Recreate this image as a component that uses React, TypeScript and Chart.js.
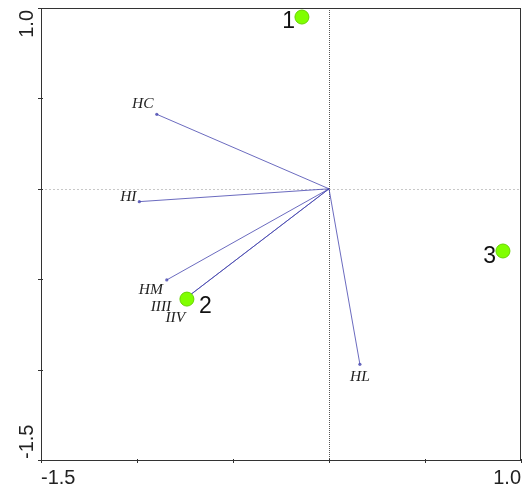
import React, { useEffect, useRef } from "react";
import { Chart, registerables } from "chart.js";

Chart.register(...registerables);

// Sites (samples)
const siteLabels = ["1", "2", "3"];
const siteX = [-0.141, -0.74, 0.906];
const siteY = [0.95, -0.61, -0.344];

// Variable arrows (biplot scores)
const varLabels = ["HC", "HI", "HM", "IIII", "IIV", "HL"];
const varX = [-0.897, -0.988, -0.845, -0.745, -0.738, 0.161];
const varY = [0.412, -0.071, -0.504, -0.605, -0.599, -0.971];

// Axes
const xMin = -1.5;
const xMax = 1.0;
const yMin = -1.5;
const yMax = 1.0;
const xTickValues = [-1.5, -1.0, -0.5, 0, 0.5, 1.0];
const yTickValues = [-1.5, -1.0, -0.5, 0, 0.5, 1.0];
const xTickLabelValues = [-1.5, 1.0];
const xTickLabels = ["-1.5", "1.0"];
const yTickLabelValues = [1.0, -1.5];
const yTickLabels = ["1.0", "-1.5"];

// styling-only offsets (pixels) for text labels
const varLabelOffsets: [number, number][] = [
  [-14, -10],
  [-11, -5],
  [-16, 10],
  [-25, 9],
  [-12, 21],
  [0, 13],
];
const siteLabelStyle: { dx: number; dy: number; align: CanvasTextAlign }[] = [
  { dx: -7, dy: 11, align: "right" },
  { dx: 12, dy: 14, align: "left" },
  { dx: -7, dy: 12, align: "right" },
];

const ARROW_COLOR = "rgba(70,70,175,0.8)";

export default function App() {
  const ref = useRef<HTMLCanvasElement>(null);

  useEffect(() => {
    document.body.style.margin = "0";
    const canvas = ref.current;
    if (!canvas) return;

    const arrowDatasets = varLabels.map((lab, i) => ({
      label: lab,
      data: [
        { x: 0, y: 0 },
        { x: varX[i], y: varY[i] },
      ],
      showLine: true,
      borderColor: ARROW_COLOR,
      borderWidth: 1,
      backgroundColor: ARROW_COLOR,
      pointRadius: [0, 1.6],
      pointBorderWidth: 0,
      pointHoverRadius: 0,
      order: 2,
    }));

    const framePlugin = {
      id: "framePlugin",
      beforeDatasetsDraw(chart: any) {
        const { ctx, chartArea: a, scales } = chart;
        const xs = scales.x;
        const ys = scales.y;
        ctx.save();
        const x0 = Math.round(xs.getPixelForValue(0)) + 0.5;
        const y0 = Math.round(ys.getPixelForValue(0)) + 0.5;
        ctx.lineWidth = 1;
        ctx.strokeStyle = "#c8c8c8";
        ctx.setLineDash([2, 2]);
        ctx.beginPath();
        ctx.moveTo(a.left, y0);
        ctx.lineTo(a.right, y0);
        ctx.stroke();
        ctx.strokeStyle = "#555555";
        ctx.setLineDash([1, 1]);
        ctx.beginPath();
        ctx.moveTo(x0, a.top);
        ctx.lineTo(x0, a.bottom);
        ctx.stroke();
        ctx.setLineDash([]);
        ctx.restore();
      },
      afterDatasetsDraw(chart: any) {
        const { ctx, chartArea: a, scales } = chart;
        const xs = scales.x;
        const ys = scales.y;
        ctx.save();
        ctx.strokeStyle = "#333333";
        ctx.lineWidth = 1;
        ctx.strokeRect(a.left + 0.5, a.top + 0.5, a.right - a.left - 1, a.bottom - a.top);
        ctx.beginPath();
        xTickValues.forEach((v) => {
          const px = Math.round(xs.getPixelForValue(v)) + 0.5;
          ctx.moveTo(px, a.bottom - 1);
          ctx.lineTo(px, a.bottom + 3);
        });
        yTickValues.forEach((v) => {
          const py = Math.round(ys.getPixelForValue(v)) + 0.5;
          ctx.moveTo(a.left - 3, py);
          ctx.lineTo(a.left + 2, py);
        });
        ctx.stroke();

        ctx.fillStyle = "#222222";
        ctx.font = '20px "Liberation Sans", Arial, sans-serif';
        ctx.textBaseline = "alphabetic";
        xTickLabelValues.forEach((v, i) => {
          const px = xs.getPixelForValue(v);
          ctx.textAlign = v === xMin ? "left" : "right";
          ctx.fillText(xTickLabels[i], px, a.bottom + 24);
        });
        yTickLabelValues.forEach((v, i) => {
          const py = ys.getPixelForValue(v);
          ctx.save();
          ctx.translate(33, v === yMax ? py + 2 : py - 1);
          ctx.rotate(-Math.PI / 2);
          ctx.textAlign = v === yMax ? "right" : "left";
          ctx.fillText(yTickLabels[i], 0, 0);
          ctx.restore();
        });

        ctx.font = 'italic 15.5px "Liberation Serif", "Times New Roman", serif';
        ctx.fillStyle = "#222222";
        ctx.textAlign = "center";
        ctx.textBaseline = "middle";
        varLabels.forEach((lab, i) => {
          const px = xs.getPixelForValue(varX[i]) + varLabelOffsets[i][0];
          const py = ys.getPixelForValue(varY[i]) + varLabelOffsets[i][1];
          ctx.fillText(lab, px, py);
        });

        ctx.font = '23px "Liberation Sans", Arial, sans-serif';
        ctx.fillStyle = "#111111";
        ctx.textBaseline = "alphabetic";
        siteLabels.forEach((lab, i) => {
          const st = siteLabelStyle[i];
          ctx.textAlign = st.align;
          ctx.fillText(
            lab,
            xs.getPixelForValue(siteX[i]) + st.dx,
            ys.getPixelForValue(siteY[i]) + st.dy
          );
        });
        ctx.restore();
      },
    };

    const chart = new Chart(canvas, {
      type: "scatter",
      data: {
        datasets: [
          {
            label: "sites",
            data: siteX.map((x, i) => ({ x, y: siteY[i] })),
            pointRadius: 7,
            pointHoverRadius: 7,
            backgroundColor: "#80ff00",
            borderColor: "#66d400",
            borderWidth: 1,
            order: 1,
          },
          ...arrowDatasets,
        ] as any,
      },
      options: {
        animation: false,
        responsive: false,
        events: [],
        layout: { autoPadding: false, padding: { left: 41, right: 2, top: 8, bottom: 29 } },
        plugins: {
          legend: { display: false },
          tooltip: { enabled: false },
        },
        scales: {
          x: { type: "linear", min: xMin, max: xMax, display: false },
          y: { type: "linear", min: yMin, max: yMax, display: false },
        },
      },
      plugins: [framePlugin],
    });

    return () => chart.destroy();
  }, []);

  return (
    <div style={{ width: 523, height: 489 }}>
      <canvas ref={ref} width={523} height={489} />
    </div>
  );
}
